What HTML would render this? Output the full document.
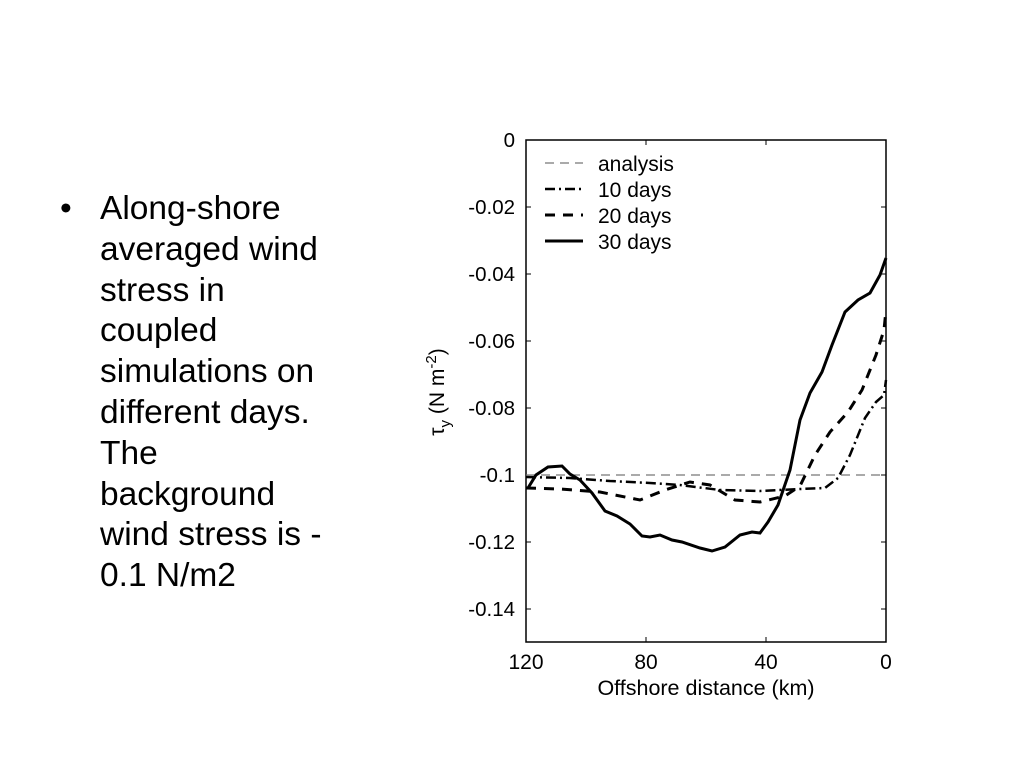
<!DOCTYPE html>
<html><head><style>
body{margin:0;width:1024px;height:768px;background:#fff;overflow:hidden;font-family:"Liberation Sans",sans-serif}
.t{position:absolute;left:100px;top:189px;font-size:33.5px;line-height:40.8px;color:#000;white-space:nowrap}
.b{position:absolute;left:60px;top:189px;font-size:33.5px;line-height:40.8px}
</style></head><body>
<div class="b">•</div>
<div class="t">Along-shore<br>averaged wind<br>stress in<br>coupled<br>simulations on<br>different days.<br>The<br>background<br>wind stress is -<br>0.1 N/m2</div>
<svg width="1024" height="768" style="position:absolute;left:0;top:0" font-family="Liberation Sans, sans-serif">
<g fill="none" stroke="#000">
<rect x="526" y="140" width="360" height="502" stroke-width="1.5"/>
<g stroke-width="1">
<path d="M526 207h5M526 274h5M526 341h5M526 408h5M526 475h5M526 542h5M526 609h5M886 207h-5M886 274h-5M886 341h-5M886 408h-5M886 475h-5M886 542h-5M886 609h-5M646 642v-5M766 642v-5M646 140v5M766 140v5"/>
</g>
<path d="M526 475H886" stroke="#777" stroke-width="1.2" stroke-dasharray="9,6"/>
<polyline stroke-width="2.5" stroke-dasharray="10,4,2,4" points="526,477 570,478 610,481 650,483 680,485 720,490 760,491 800,489 825,488 838,478 850,455 865,418 876,402 884,395 886,380"/>
<polyline stroke-width="3" stroke-dasharray="10,8" points="526,488 560,489 600,492 640,500 665,490 690,482 710,485 735,500 760,502 785,496 800,486 815,455 830,432 848,412 862,390 876,355 884,330 886,310"/>
<polyline stroke-width="3" points="528,488 536,475 548,467 562,466 570,474 580,480 592,493 605,511 617,516 630,524 642,536 650,537 660,535 672,540 682,542 700,548 712,551 725,547 740,535 752,532 760,533 768,522 778,505 790,470 800,420 810,393 822,372 832,345 845,312 858,300 870,293 880,275 886,258"/>
<path d="M545 163h38" stroke="#777" stroke-width="1.2" stroke-dasharray="9,6"/>
<path d="M545 189h38" stroke-width="2.5" stroke-dasharray="10,4,2,4"/>
<path d="M545 215h38" stroke-width="3" stroke-dasharray="10,8"/>
<path d="M545 241h38" stroke-width="3"/>
</g>
<g font-size="21" fill="#000">
<text x="598" y="171">analysis</text>
<text x="598" y="197">10 days</text>
<text x="598" y="223">20 days</text>
<text x="598" y="249">30 days</text>
</g>
<g font-size="20.5" fill="#000" text-anchor="end">
<text x="515" y="147">0</text>
<text x="515" y="214">-0.02</text>
<text x="515" y="281">-0.04</text>
<text x="515" y="348">-0.06</text>
<text x="515" y="415">-0.08</text>
<text x="515" y="482">-0.1</text>
<text x="515" y="549">-0.12</text>
<text x="515" y="616">-0.14</text>
</g>
<g font-size="21" fill="#000" text-anchor="middle">
<text x="526" y="669">120</text>
<text x="646" y="669">80</text>
<text x="766" y="669">40</text>
<text x="886" y="669">0</text>
<text x="706" y="695" font-size="21.5">Offshore distance (km)</text>
</g>
<text transform="translate(444,392) rotate(-90)" font-size="21" text-anchor="middle">τ<tspan font-size="15" dy="6">y</tspan><tspan dy="-6"> (N m</tspan><tspan font-size="15" dy="-8">-2</tspan><tspan dy="8">)</tspan></text>
</svg>
</body></html>
